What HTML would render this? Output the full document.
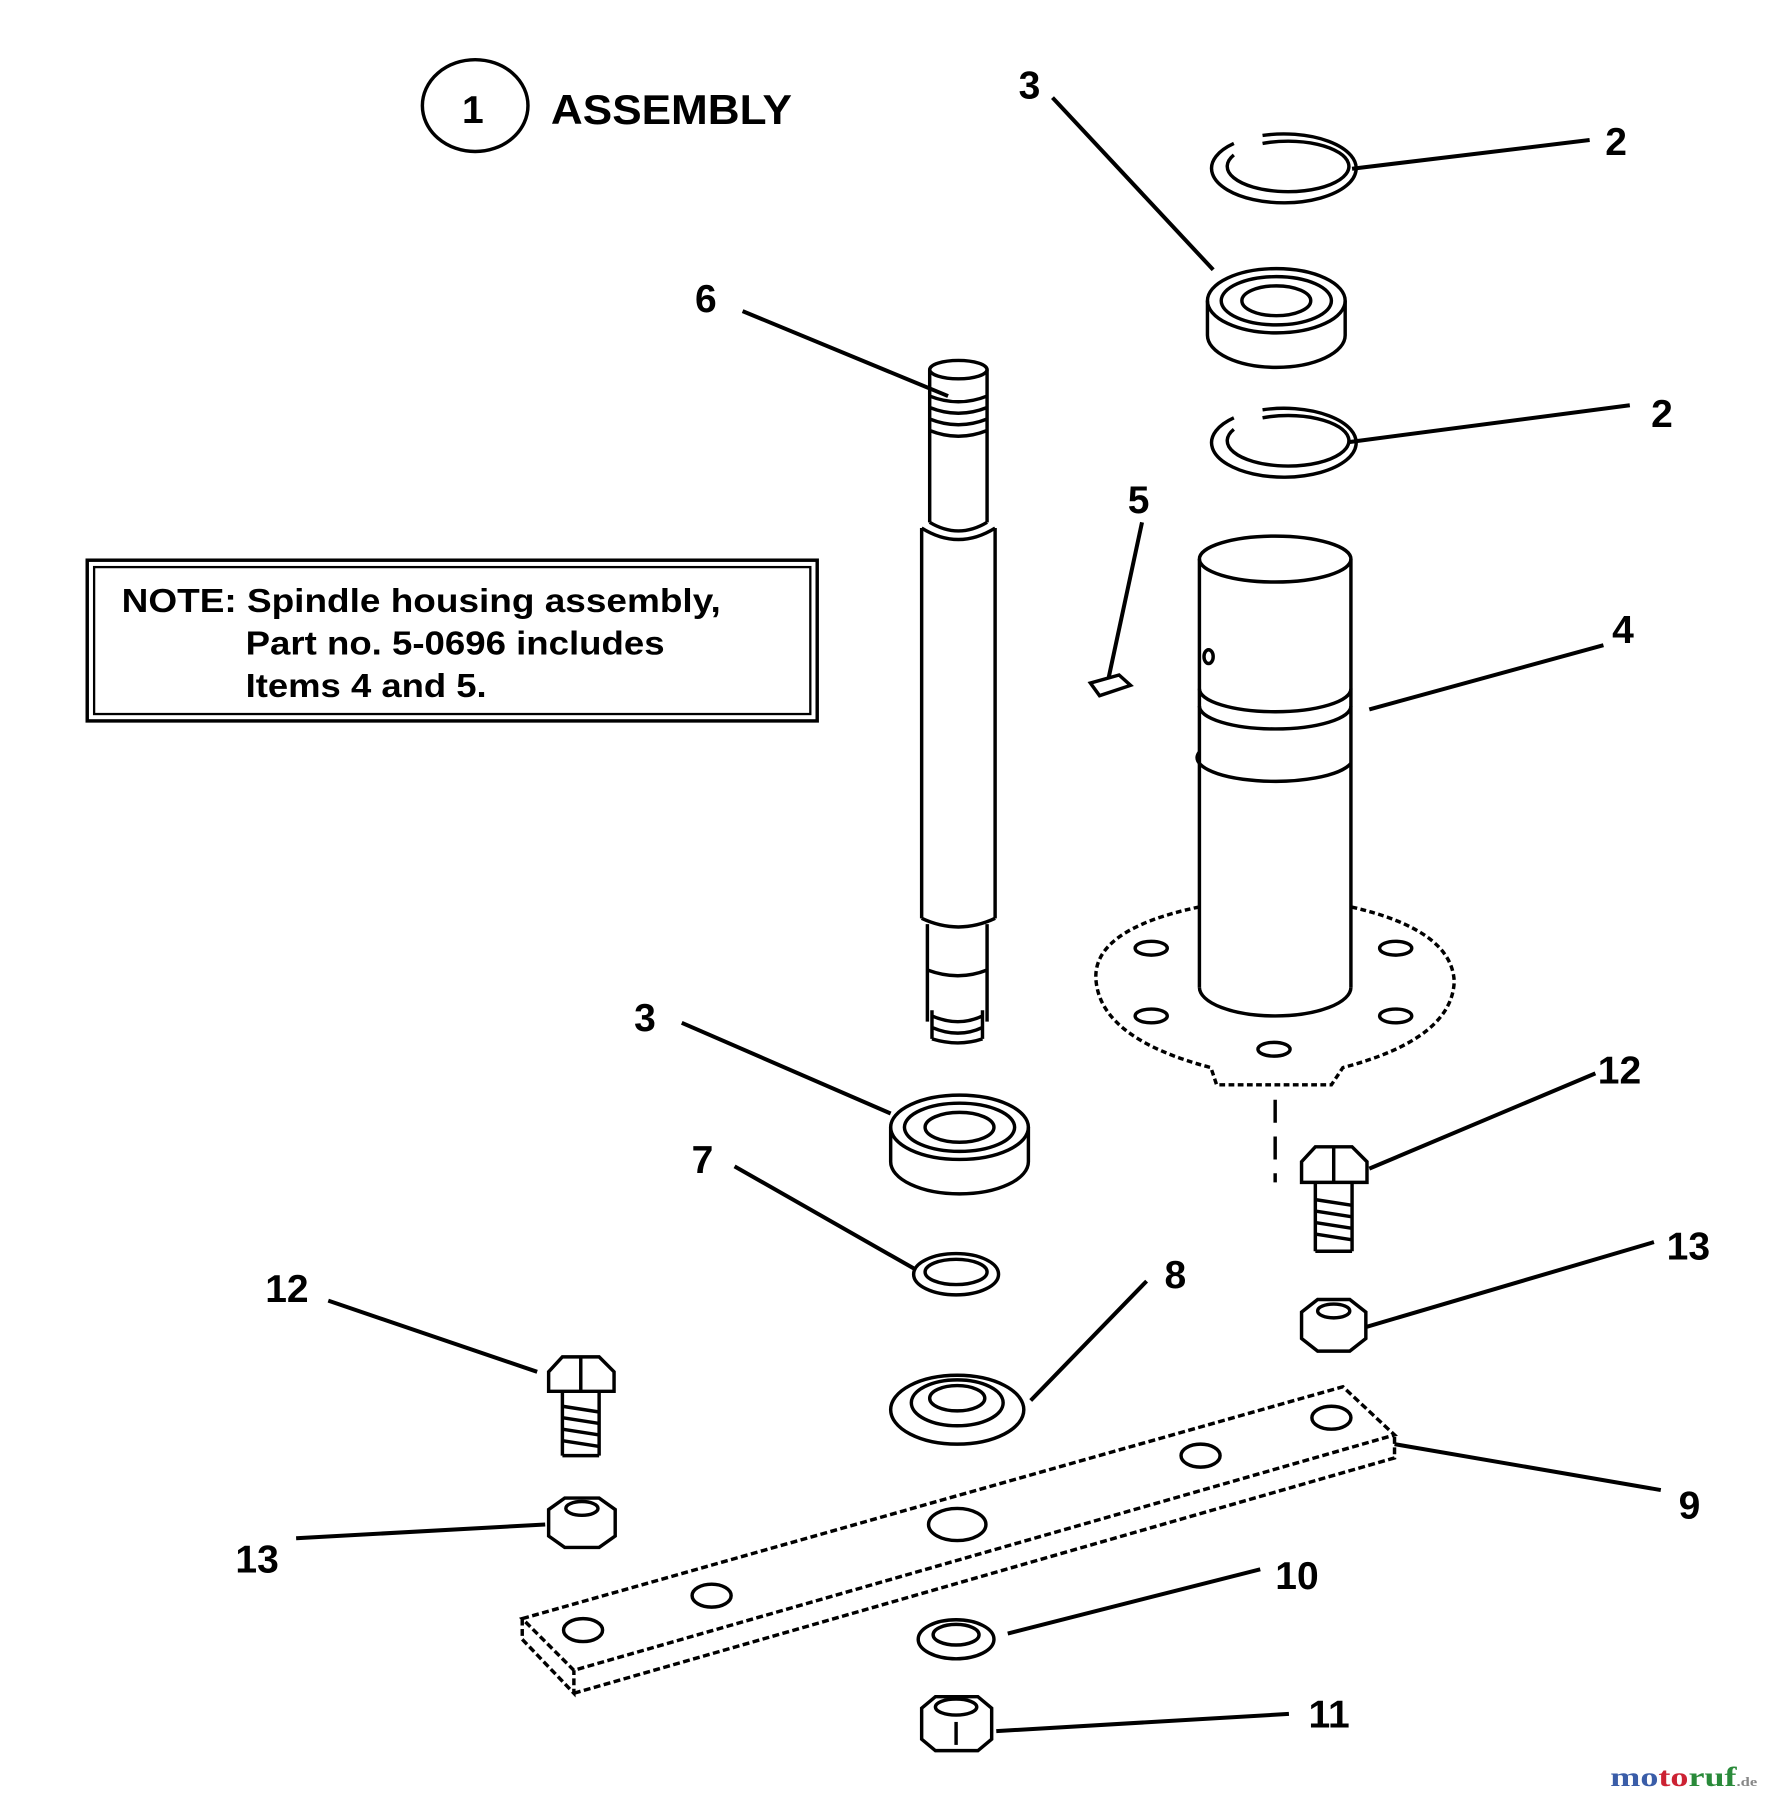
<!DOCTYPE html>
<html><head><meta charset="utf-8"><style>
html,body{margin:0;padding:0;background:#fff}
svg{display:block}
text{font-family:"Liberation Sans",Arial,sans-serif;font-weight:bold;fill:#000}
</style></head><body>
<svg width="1771" height="1800" viewBox="0 0 1543 1568" preserveAspectRatio="none" xmlns="http://www.w3.org/2000/svg">
<rect width="1543" height="1568" fill="#fff"/>
<g fill="none" stroke="#000" stroke-width="3">
<ellipse cx="414" cy="92" rx="46" ry="40"/>
<rect x="76" y="488" width="636" height="140"/>
<rect x="82" y="494" width="624" height="128" stroke-width="2"/>
<g stroke-width="3.5">
<line x1="917" y1="85" x2="1057" y2="235"/>
<line x1="1385" y1="122" x2="1178" y2="147"/>
<line x1="647" y1="271" x2="826" y2="345"/>
<line x1="1420" y1="353" x2="1176" y2="385"/>
<line x1="995" y1="455" x2="966" y2="590"/>
<line x1="1397" y1="562" x2="1193" y2="618"/>
<line x1="594" y1="891" x2="776" y2="970"/>
<line x1="1390" y1="935" x2="1193" y2="1018"/>
<line x1="640" y1="1016" x2="798" y2="1106"/>
<line x1="1441" y1="1082" x2="1190" y2="1156"/>
<line x1="286" y1="1133" x2="468" y2="1195"/>
<line x1="999" y1="1116" x2="898" y2="1220"/>
<line x1="1447" y1="1298" x2="1215" y2="1258"/>
<line x1="258" y1="1340" x2="475" y2="1328"/>
<line x1="1098" y1="1367" x2="878" y2="1423"/>
<line x1="1123" y1="1493" x2="868" y2="1508"/>
</g>
<path d="M1075,125 A63,30 0 1 0 1100,118"/>
<path d="M1075,135 A53,22 0 1 0 1100,125"/>
<path d="M1075,364 A63,30 0 1 0 1100,357"/>
<path d="M1075,374 A53,22 0 1 0 1100,364"/>
<path d="M1052,262 V292 A60,28 0 0 0 1172,292 V262"/>
<ellipse cx="1112" cy="262" rx="60" ry="28"/>
<ellipse cx="1112" cy="262" rx="48" ry="21"/>
<ellipse cx="1112" cy="262" rx="30" ry="13"/>
<path d="M1045,487 V860 M1177,487 V860"/>
<ellipse cx="1111" cy="487" rx="66" ry="20"/>
<path d="M1045,600 A66,20 0 0 0 1177,600 M1045,615 A66,20 0 0 0 1177,615 M1045,655 A66,20 0 0 0 1177,665"/>
<ellipse cx="1053" cy="572" rx="4" ry="6"/>
<path d="M1045,860 A66,25 0 0 0 1177,860"/>
<path d="M1045,790 Q950,810 955,855 Q960,905 1055,930 L1060,945 L1160,945 L1170,930 Q1265,905 1267,855 Q1265,810 1177,790" stroke-dasharray="5 3"/>
<ellipse cx="1003" cy="826" rx="14" ry="6"/><ellipse cx="1216" cy="826" rx="14" ry="6"/>
<ellipse cx="1003" cy="885" rx="14" ry="6"/><ellipse cx="1216" cy="885" rx="14" ry="6"/>
<ellipse cx="1110" cy="914" rx="14" ry="6"/>
<line x1="1111" y1="958" x2="1111" y2="1030" stroke-dasharray="20 12"/>
<path d="M950,595 L975,588 L985,597 L958,606 Z"/>
<path d="M810,322 V455 M860,322 V455"/>
<ellipse cx="835" cy="322" rx="25" ry="8"/>
<path d="M810,345 Q835,355 860,345 M810,355 Q835,365 860,355 M810,365 Q835,375 860,365 M810,375 Q835,385 860,375"/>
<path d="M803,460 V800 M867,460 V800"/>
<path d="M803,460 Q835,480 867,460 M810,455 Q835,470 860,455"/>
<path d="M803,800 Q835,815 867,800 M808,805 V890 M860,805 V890"/>
<path d="M808,845 Q835,855 860,845 M812,880 V905 M856,880 V905 M812,885 Q835,895 856,885 M812,895 Q835,905 856,895 M812,905 Q835,912 856,905"/>
<path d="M776,982 V1012 A60,28 0 0 0 896,1012 V982"/>
<ellipse cx="836" cy="982" rx="60" ry="28"/>
<ellipse cx="836" cy="982" rx="48" ry="21"/>
<ellipse cx="836" cy="982" rx="30" ry="13"/>
<ellipse cx="833" cy="1110" rx="37" ry="18"/>
<ellipse cx="833" cy="1108" rx="27" ry="11"/>
<ellipse cx="834" cy="1228" rx="58" ry="30"/>
<ellipse cx="834" cy="1222" rx="40" ry="20"/>
<ellipse cx="834" cy="1218" rx="24" ry="11"/>
<path d="M455,1410 L1170,1208 L1215,1250 L500,1455 Z" stroke-dasharray="6 3"/>
<path d="M455,1410 V1428 L500,1475 V1455 M500,1475 L1215,1270 V1250" stroke-dasharray="6 3"/>
<ellipse cx="508" cy="1420" rx="17" ry="10"/>
<ellipse cx="620" cy="1390" rx="17" ry="10"/>
<ellipse cx="834" cy="1328" rx="25" ry="14"/>
<ellipse cx="1046" cy="1268" rx="17" ry="10"/>
<ellipse cx="1160" cy="1235" rx="17" ry="10"/>
<path d="M478,1195 L490,1182 L522,1182 L535,1195 L535,1212 L478,1212 Z"/>
<line x1="506" y1="1182" x2="506" y2="1212"/>
<path d="M490,1212 V1268 M522,1212 V1268 M490,1268 H522"/>
<path d="M490,1225 L522,1230 M490,1235 L522,1240 M490,1245 L522,1250 M490,1255 L522,1260"/>
<path d="M478,1315 L492,1305 L522,1305 L536,1315 V1338 L522,1348 L492,1348 L478,1338 Z"/>
<ellipse cx="507" cy="1314" rx="14" ry="6"/>
<path d="M1134,1012 L1146,999 L1178,999 L1191,1012 L1191,1030 L1134,1030 Z"/>
<line x1="1162" y1="999" x2="1162" y2="1030"/>
<path d="M1146,1030 V1090 M1178,1030 V1090 M1146,1090 H1178"/>
<path d="M1146,1045 L1178,1050 M1146,1055 L1178,1060 M1146,1065 L1178,1070 M1146,1075 L1178,1080"/>
<path d="M1134,1143 L1148,1132 L1176,1132 L1190,1143 V1166 L1176,1177 L1148,1177 L1134,1166 Z"/>
<ellipse cx="1162" cy="1142" rx="14" ry="6"/>
<ellipse cx="833" cy="1428" rx="33" ry="17"/>
<ellipse cx="833" cy="1424" rx="20" ry="9"/>
<path d="M803,1488 L815,1478 L852,1478 L864,1488 V1515 L852,1525 L815,1525 L803,1515 Z"/>
<ellipse cx="833" cy="1487" rx="18" ry="7"/>
<line x1="833" y1="1500" x2="833" y2="1520"/>
</g>
<text x="412" y="107" font-size="34" text-anchor="middle">1</text>
<text x="480" y="108" font-size="36" textLength="210" lengthAdjust="spacingAndGlyphs">ASSEMBLY</text>
<text x="106" y="533" font-size="29" textLength="522" lengthAdjust="spacingAndGlyphs">NOTE: Spindle housing assembly,</text>
<text x="214" y="570" font-size="29" textLength="365" lengthAdjust="spacingAndGlyphs">Part no. 5-0696 includes</text>
<text x="214" y="607" font-size="29" textLength="210" lengthAdjust="spacingAndGlyphs">Items 4 and 5.</text>
<g font-size="34" text-anchor="middle">
<text x="897" y="86">3</text>
<text x="1408" y="135">2</text>
<text x="615" y="272">6</text>
<text x="1448" y="372">2</text>
<text x="992" y="447">5</text>
<text x="1414" y="560">4</text>
<text x="562" y="898">3</text>
<text x="1411" y="944">12</text>
<text x="612" y="1022">7</text>
<text x="1471" y="1097">13</text>
<text x="250" y="1134">12</text>
<text x="1024" y="1122">8</text>
<text x="1472" y="1323">9</text>
<text x="224" y="1370">13</text>
<text x="1130" y="1384">10</text>
<text x="1158" y="1505">11</text>
</g>
<text x="1403" y="1556" font-size="24" textLength="128" lengthAdjust="spacingAndGlyphs" style="font-family:'Liberation Serif',serif"><tspan fill="#3a5da8">mo</tspan><tspan fill="#c23">to</tspan><tspan fill="#2a8a3a">ruf</tspan><tspan font-size="11" fill="#888">.de</tspan></text>
</svg>
</body></html>
